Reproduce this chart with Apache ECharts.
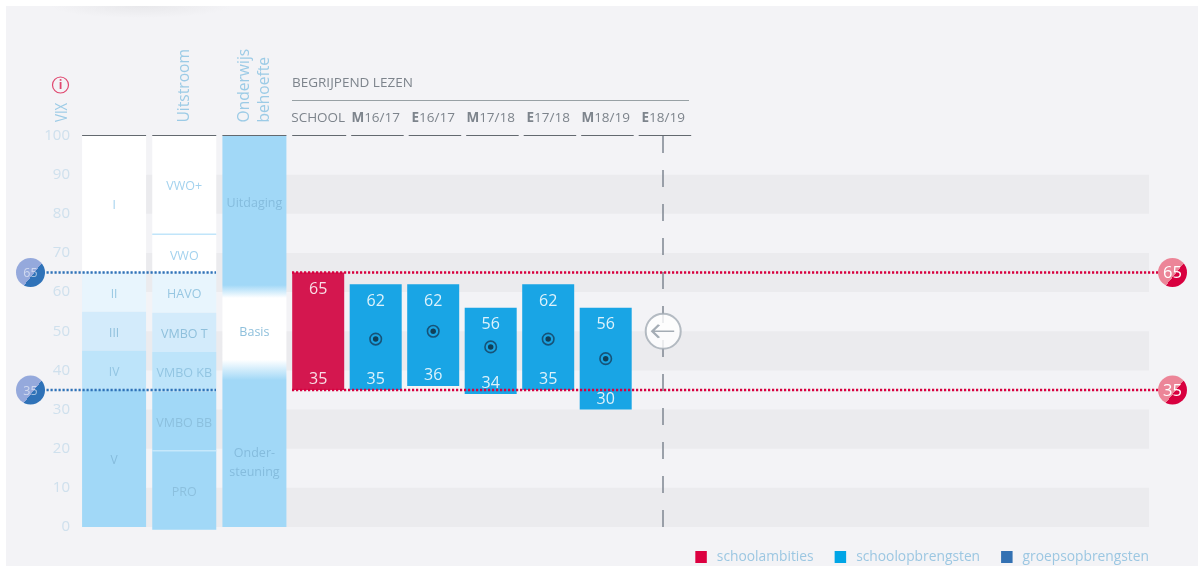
<!DOCTYPE html>
<html>
<head>
<meta charset="utf-8">
<script src="https://cdn.jsdelivr.net/npm/echarts@6/dist/echarts.min.js"></script>
<style>
html,body{margin:0;padding:0;background:#fff;overflow:hidden}
#panel{position:absolute;left:6px;top:6px;width:1192px;height:560px;
  background:radial-gradient(ellipse 90px 12px at 135px 0,#e8e8eb,rgba(243,243,246,0)),#f3f3f6}
#chart{position:absolute;left:0;top:0;width:1198px;height:566px}
</style>
</head>
<body>
<div id="panel"></div>
<div id="chart"></div>
<script>
// ---- data
const yTicksMax = 100;
const bandRanges = [[0, 10], [20, 30], [40, 50], [60, 70], [80, 90]];

const vixNames = ['I', 'II', 'III', 'IV', 'V'];
const vixTop = [100, 65, 55, 45, 35];
const vixBottom = [65, 55, 45, 35, 0];

const outflowNames = ['VWO+', 'VWO', 'HAVO', 'VMBO T', 'VMBO KB', 'VMBO BB', 'PRO'];
const outflowTop = [100, 74.8, 65, 54.7, 44.7, 34.6, 19.5];
const outflowBottom = [74.8, 65, 54.7, 44.7, 34.6, 19.5, -0.7];

const needNames = ['Uitdaging', 'Basis', 'Onder-\nsteuning'];
const needValues = [83, 50, 16.5];

const leftColumns = ['VIX', 'Uitstroom', 'Onderwijs\nbehoefte'];
const measureColumns = ['SCHOOL', 'M16/17', 'E16/17', 'M17/18', 'E17/18', 'M18/19', 'E18/19'];

const schoolHigh = 65;
const schoolLow = 35;
const resultColumns = ['M16/17', 'E16/17', 'M17/18', 'E17/18', 'M18/19'];
const resultHigh = [62, 62, 56, 62, 56];
const resultLow = [35, 36, 34, 35, 30];
const resultMid = [48, 50, 46, 48, 43];
const groupLevels = [65, 35];
const schoolLevels = [65, 35];
const currentColumn = 'E18/19';
const currentValue = 50;

// ---- style
const FONT = '"Open Sans", sans-serif';
const C = {
  band: '#ebebee', rule: '#63696f', axis: '#cfe0ed', head: '#9ccbe6',
  red: '#d4174f', blue: '#19a5e5', redDark: '#d8003f', redLight: '#ec8598',
  groupDark: '#2f72b8', groupLight: '#95a9dc', gray: '#7d848c', dash: '#7f8791'
};
const vixColors = ['#ffffff', '#e8f5fd', '#d3ebfb', '#bde4fa', '#a1d8f7'];
const outflowColors = ['#ffffff', '#ffffff', '#e8f5fd', '#d3ebfb', '#bde4fa', '#a1d8f7', '#a1d8f7'];
const outflowTextColors = ['#a3d2ee', '#a3d2ee', '#97c7e2', '#8fc0dc', '#92c5e2', '#8cc0de', '#8cc0de'];
const vixTextColors = ['#a3d2ee', '#97c7e2', '#8fc0dc', '#92c5e2', '#86bcdc'];
const needTextColors = ['#85bcdd', '#8fc0dc', '#85bcdd'];
const COL_W = 64, BAR_W = 52;
const BADGE_L = 30.5, BADGE_R = 1172.5, BADGE_RADIUS = 14.5;
const BLUE_END = 216, RED_START = 292, RED_END = 1160;
const TEXT_NUDGE = 2;

const needGradient = new echarts.graphic.LinearGradient(0, 0, 0, 1, [
  {offset: 0, color: '#a1d8f7'}, {offset: .382, color: '#a1d8f7'},
  {offset: .415, color: '#ffffff'}, {offset: .573, color: '#ffffff'},
  {offset: .625, color: '#a1d8f7'}, {offset: 1, color: '#a1d8f7'}
]);

function badgeFill(dark, light) {
  return new echarts.graphic.LinearGradient(0.1, 0.18, 0.9, 0.82, [
    {offset: 0, color: light}, {offset: .6, color: light},
    {offset: .6, color: dark}, {offset: 1, color: dark}
  ]);
}

function rangeRect(api, column, top, bottom, width, fill, z2) {
  const t = api.coord([column, top]), b = api.coord([column, bottom]);
  return {type: 'rect', z2: z2 || 0,
    shape: {x: t[0] - width / 2, y: t[1], width: width, height: b[1] - t[1]},
    style: {fill: fill}};
}
function centerText(x, y, text, fill, size, z2) {
  return {type: 'text', z2: z2 || 10,
    style: {x: x, y: y + TEXT_NUDGE, text: text, fill: fill, font: '400 ' + size + 'px ' + FONT,
      align: 'center', verticalAlign: 'middle', lineHeight: 19}};
}

// left three columns
function leftItem(params, api) {
  const i = params.dataIndex, children = [];
  if (i === 0) {
    vixNames.forEach((n, k) => {
      children.push(rangeRect(api, 0, vixTop[k], vixBottom[k], COL_W, vixColors[k]));
      const p = api.coord([0, (vixTop[k] + vixBottom[k]) / 2]);
      children.push(centerText(p[0], p[1], n, vixTextColors[k], 12));
    });
  } else if (i === 1) {
    outflowNames.forEach((n, k) => {
      children.push(rangeRect(api, 1, outflowTop[k], outflowBottom[k], COL_W, outflowColors[k]));
      const p = api.coord([1, (outflowTop[k] + outflowBottom[k]) / 2]);
      children.push(centerText(p[0], p[1] + (n === 'VWO' ? 1 : 0), n, outflowTextColors[k], 12.5));
    });
    [outflowTop[1], outflowTop[6]].forEach((v, k) => {
      const p = api.coord([1, v]);
      children.push({type: 'line', z2: 5, shape: {x1: p[0] - COL_W / 2, x2: p[0] + COL_W / 2, y1: p[1], y2: p[1]},
        style: {stroke: k === 0 ? '#a1d8f7' : '#c6e8fb', lineWidth: k === 0 ? 1 : 1.5}});
    });
  } else {
    children.push(rangeRect(api, 2, 100, 0, COL_W, needGradient));
    needNames.forEach((n, k) => {
      const p = api.coord([2, needValues[k]]);
      children.push(centerText(p[0], p[1] - 1, n, needTextColors[k], 12.5));
    });
  }
  const top = api.coord([i, 100]);
  children.push({type: 'line', z2: 6,
    shape: {x1: top[0] - COL_W / 2, x2: top[0] + COL_W / 2, y1: top[1], y2: top[1]},
    style: {stroke: C.rule, lineWidth: 1}});
  return {type: 'group', children: children};
}

// floating result bars
function barItem(color) {
  return function (params, api) {
    const col = api.value(0), high = api.value(1), low = api.value(2);
    const t = api.coord([col, high]), b = api.coord([col, low]);
    const ink = 'rgba(255,255,255,.85)';
    return {type: 'group', children: [
      {type: 'rect', shape: {x: t[0] - BAR_W / 2, y: t[1], width: BAR_W, height: b[1] - t[1]}, style: {fill: color}},
      centerText(t[0], t[1] + 15, String(high), ink, 16),
      centerText(t[0], b[1] - 12.5, String(low), ink, 16)
    ]};
  };
}

// header rule per measure column
function headRule(params, api) {
  const p = api.coord([api.value(0), 100]);
  const first = params.dataIndex === 0;
  return {type: 'line', shape: {x1: p[0] - BAR_W / 2 + (first ? 0 : 1.5), x2: p[0] + BAR_W / 2 + 2, y1: p[1], y2: p[1]},
    style: {stroke: C.rule, lineWidth: 1}};
}

// horizontal level lines with end badges
function levelItem(x1, x2, badgeX, stroke, dark, light, textFill, textSize) {
  return function (params, api) {
    const v = api.value(1), y = api.coord([0, v])[1];
    return {type: 'group', children: [
      {type: 'line', shape: {x1: x1, x2: x2, y1: y, y2: y}, style: {stroke: stroke, lineWidth: 2.5, lineDash: [2.2, 1.8]}},
      {type: 'circle', shape: {cx: badgeX, cy: y, r: BADGE_RADIUS}, style: {fill: badgeFill(dark, light)}},
      centerText(badgeX, y - 1, String(v), textFill, textSize, 12)
    ]};
  };
}

const chart = echarts.init(document.getElementById('chart'), null, {renderer: 'canvas'});
const hidden = {show: false};
const vExtent = {min: 0, max: yTicksMax, interval: 10};

chart.setOption({
  backgroundColor: 'transparent',
  animation: false,
  textStyle: {fontFamily: FONT},
  title: {text: 'BEGRIJPEND LEZEN', left: 292, top: 76, padding: 0,
    textStyle: {fontFamily: FONT, fontSize: 13.5, fontWeight: 400, color: C.gray}},
  legend: {
    right: 49, top: 550, padding: 0, icon: 'rect', itemWidth: 11.5, itemHeight: 12, itemGap: 21,
    data: ['schoolambities', 'schoolopbrengsten', 'groepsopbrengsten'],
    textStyle: {fontFamily: FONT, fontSize: 13.8, color: '#9cc7e2', padding: [2, 0, 0, 5]},
    selectedMode: false
  },
  grid: [
    {left: 82, right: 49, top: 135.5, height: 391.5},
    {left: 79, width: 210.5, top: 135.5, height: 391.5},
    {left: 289.45, width: 402.5, top: 135.5, height: 391.5}
  ],
  xAxis: [
    {gridIndex: 0, type: 'category', data: ['a'], show: false},
    {gridIndex: 1, type: 'category', data: leftColumns, position: 'top',
      axisLine: hidden, axisTick: hidden, splitLine: hidden,
      axisLabel: {interval: 0, rotate: 90, margin: 13, fontFamily: FONT, fontSize: 15.6, color: C.head, lineHeight: 20,
        padding: [6, 0, 0, 0], formatter: v => v === 'VIX' ? '' : v}},
    {gridIndex: 2, type: 'category', data: measureColumns, position: 'top',
      axisLine: hidden, axisTick: hidden, splitLine: hidden,
      axisLabel: {interval: 0, margin: 10, fontFamily: FONT, fontSize: 13.5, color: C.gray,
        formatter: v => v === 'SCHOOL' ? v : '{b|' + v[0] + '}' + v.slice(1),
        rich: {b: {fontFamily: FONT, fontSize: 13.5, fontWeight: 700, color: C.gray}}}}
  ],
  yAxis: [
    Object.assign({gridIndex: 0, type: 'value',
      axisLine: hidden, axisTick: hidden, splitLine: hidden,
      axisLabel: {margin: 12, fontFamily: FONT, fontSize: 15, color: C.axis, padding: [5, 0, 0, 0]}}, vExtent),
    Object.assign({gridIndex: 1, type: 'value', show: false}, vExtent),
    Object.assign({gridIndex: 2, type: 'value', show: false}, vExtent)
  ],
  series: [
    {type: 'custom', name: 'bands', xAxisIndex: 0, yAxisIndex: 0, z: 1, silent: true,
      data: bandRanges, clip: false,
      renderItem: (params, api) => {
        const cs = params.coordSys;
        const t = api.coord([0, api.value(1)]), b = api.coord([0, api.value(0)]);
        return {type: 'rect', shape: {x: cs.x, y: t[1], width: cs.width, height: b[1] - t[1]}, style: {fill: C.band}};
      }},
    {type: 'custom', name: 'columns', xAxisIndex: 1, yAxisIndex: 1, z: 2, silent: true, clip: false,
      data: leftColumns.map((c, i) => [i]), encode: {x: 0}, renderItem: leftItem},
    {type: 'custom', name: 'rules', xAxisIndex: 2, yAxisIndex: 2, z: 2, silent: true, clip: false,
      data: measureColumns.map((c, i) => [i]), encode: {x: 0}, renderItem: headRule},
    {type: 'custom', name: 'schoolambities', xAxisIndex: 2, yAxisIndex: 2, z: 3, silent: true, clip: false,
      itemStyle: {color: '#dc0040'},
      data: [[measureColumns[0], schoolHigh, schoolLow]], encode: {x: 0, y: [1, 2]}, renderItem: barItem(C.red)},
    {type: 'custom', name: 'schoolopbrengsten', xAxisIndex: 2, yAxisIndex: 2, z: 3, silent: true, clip: false,
      itemStyle: {color: '#00a5e6'},
      data: resultColumns.map((c, i) => [c, resultHigh[i], resultLow[i]]), encode: {x: 0, y: [1, 2]}, renderItem: barItem(C.blue)},
    {type: 'scatter', name: 'ring', xAxisIndex: 2, yAxisIndex: 2, z: 4, silent: true,
      symbol: 'circle', symbolSize: 11.5, itemStyle: {color: 'rgba(0,0,0,0)', borderColor: '#173f5c', borderWidth: 1.6},
      data: resultColumns.map((c, i) => [c, resultMid[i]])},
    {type: 'scatter', name: 'dot', xAxisIndex: 2, yAxisIndex: 2, z: 5, silent: true,
      symbol: 'circle', symbolSize: 5.5, itemStyle: {color: '#0e2535'},
      data: resultColumns.map((c, i) => [c, resultMid[i]])},
    {type: 'custom', name: 'schoolLevels', xAxisIndex: 0, yAxisIndex: 0, z: 6, silent: true, clip: false,
      data: schoolLevels.map(v => [0, v]), encode: {y: 1},
      renderItem: levelItem(RED_START, RED_END, BADGE_R, C.redDark, C.redDark, C.redLight, '#ffffff', 16.5)},
    {type: 'custom', name: 'groepsopbrengsten', xAxisIndex: 0, yAxisIndex: 0, z: 6, silent: true, clip: false,
      itemStyle: {color: '#3371b3'},
      data: groupLevels.map(v => [0, v]), encode: {y: 1},
      renderItem: levelItem(BADGE_L, BLUE_END, BADGE_L, C.groupDark, C.groupDark, C.groupLight, 'rgba(255,255,255,.55)', 12.5)},
    {type: 'scatter', name: 'current', xAxisIndex: 2, yAxisIndex: 2, z: 7, silent: true,
      symbol: 'circle', symbolSize: 35, itemStyle: {color: '#ffffff', borderColor: '#a3abb4', borderWidth: 2},
      data: [[currentColumn, currentValue]],
      markLine: {silent: true, symbol: 'none', z: 2, label: hidden,
        lineStyle: {color: C.dash, type: [17, 17], width: 1.5},
        data: [{xAxis: currentColumn}]}},
    {type: 'scatter', name: 'arrow', xAxisIndex: 2, yAxisIndex: 2, z: 8, silent: true,
      symbol: 'path://M22 6.5H1M7.5 .5L1 6.5L7.5 12.5', symbolSize: [22, 13],
      itemStyle: {color: 'rgba(0,0,0,0)', borderColor: '#8f98a3', borderWidth: 2},
      data: [[currentColumn, currentValue]]}
  ],
  graphic: [
    {type: 'line', shape: {x1: 292, x2: 689, y1: 100.5, y2: 100.5}, style: {stroke: '#98a1a5', lineWidth: 1.2}},
    {type: 'circle', shape: {cx: 60.5, cy: 85, r: 8}, style: {fill: 'none', stroke: '#e0476f', lineWidth: 1.2}},
    {type: 'text', style: {x: 60.5, y: 85.5, text: 'i', align: 'center', verticalAlign: 'middle',
      font: '700 12px ' + FONT, fill: '#e0476f'}},
    {type: 'text', x: 62, y: 122, rotation: Math.PI / 2, scaleX: 0.78,
      style: {text: 'VIX', align: 'left', verticalAlign: 'middle', font: '400 17px ' + FONT, fill: C.head}}
  ]
});
</script>
</body>
</html>
